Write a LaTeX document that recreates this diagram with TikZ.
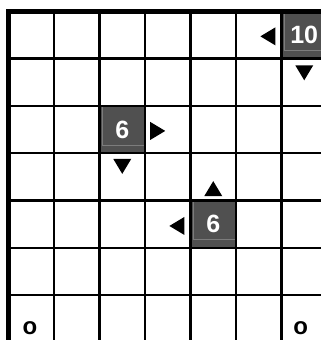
\documentclass[tikz,border=0pt]{standalone}
\usepackage{fontspec}
\setmainfont{Liberation Sans}
\usetikzlibrary{positioning}
\definecolor{cellgray}{HTML}{505050}
\definecolor{celledge}{HTML}{7C7C7C}
\tikzset{
  gridline/.style={line width=2.4pt},
  frameline/.style={line width=4.4pt},
  darkcell/.style={fill=cellgray},
  cellrim/.style={draw=celledge,line width=0.5pt},
  clue/.style={text=white,font=\fontsize{25}{30}\selectfont\bfseries,inner sep=0pt},
  corner/.style={font=\fontsize{24}{28}\selectfont\bfseries,inner sep=0pt},
  pointer/.pic={\fill (7.5pt,0) -- (-7.5pt,9pt) -- (-7.5pt,-9pt) -- cycle;},
}
\begin{document}
\begin{tikzpicture}[x=1pt,y=1pt]
  \clip (0,0) rectangle (321,-340);
  \begin{scope}[shift={(8.5pt,-11.3pt)},x=45.5pt,y=-47.28pt]
    % numbered cells
    \foreach \c/\r in {6/0,2/2,4/4}{
      \fill[darkcell] (\c,\r) rectangle (\c+1,\r+1);
      \draw[cellrim] (\c+0.06,\r) -- (\c+0.06,\r+0.83) -- (\c+1,\r+0.83);
    }
    % grid
    \foreach \i in {1,...,6}{
      \draw[gridline] (\i,0) -- (\i,7);
      \draw[gridline] (0,\i) -- (7,\i);
    }
    \draw[frameline] (0,0) rectangle (7,7);
    \node[clue] (ten) at (6.5,0.5) {10};
    \node[clue] (sixa) at (2.5,2.5) {6};
    \node[clue] (sixb) at (4.5,4.5) {6};
    % arrows
    \foreach \p/\a in {{5.7,0.53}/180,{6.5,1.3}/-90,{3.28,2.53}/0,{2.5,3.28}/-90,{4.5,3.75}/90,{3.7,4.54}/180}{
      \pic[rotate=\a] at (\p) {pointer};
    }
    \node[corner] (ol) at (0.47,6.71) {o};
    \node[corner] (or) at (6.42,6.71) {o};
  \end{scope}
\end{tikzpicture}
\end{document}
